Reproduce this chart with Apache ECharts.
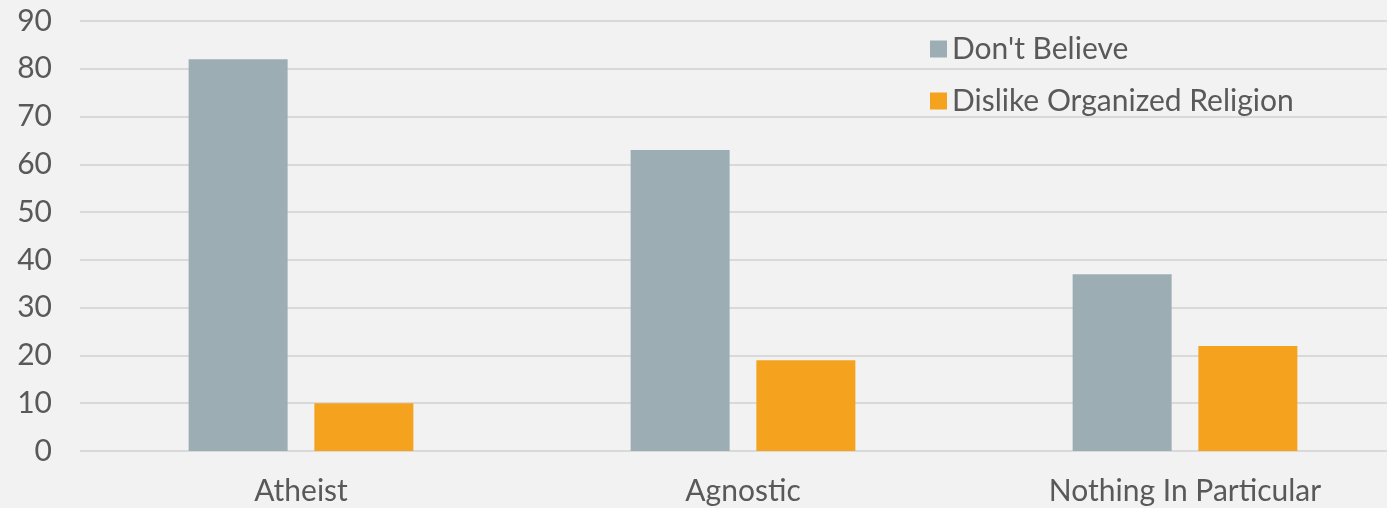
<!DOCTYPE html>
<html>
<head>
<meta charset="utf-8">
<script src="https://cdn.jsdelivr.net/npm/echarts@6/dist/echarts.min.js"></script>
<style>
  html, body { margin: 0; padding: 0; background: #f2f2f2; overflow: hidden; }
  #wrap { width: 1387px; height: 508px; overflow: hidden; }
  #chart { width: 1406px; height: 508px; }
</style>
</head>
<body>
<div id="wrap"><div id="chart"></div></div>
<script>
// Reasons for being unaffiliated, by group
const categories = ['Atheist', 'Agnostic', 'Nothing In Particular'];
const dontBelieve = [82, 63, 37];
const dislikeOrganizedReligion = [10, 19, 22];
const seriesNames = ["Don't Believe", 'Dislike Organized Religion'];

const textColor = '#595959';
const fontFamily = 'Lato, "Open Sans", sans-serif';

const chart = echarts.init(document.getElementById('chart'), null, { renderer: 'canvas' });
chart.setOption({
  backgroundColor: '#f2f2f2',
  animation: false,
  grid: { left: 80, right: 0, top: 21, bottom: 57, containLabel: false },
  legend: {
    orient: 'vertical',
    left: 925,
    top: 29,
    itemWidth: 17,
    itemHeight: 17,
    itemGap: 22,
    icon: 'rect',
    textStyle: { color: textColor, fontSize: 30, lineHeight: 30, fontFamily: fontFamily, padding: [0, 0, 0, 0] },
    data: seriesNames
  },
  xAxis: {
    type: 'category',
    data: categories,
    axisLine: { show: false },
    axisTick: { show: false },
    axisLabel: { color: textColor, fontSize: 30, fontFamily: fontFamily, margin: 25 }
  },
  yAxis: {
    type: 'value',
    min: 0,
    max: 90,
    interval: 10,
    axisLine: { show: false },
    axisTick: { show: false },
    axisLabel: { color: textColor, fontSize: 30, fontFamily: fontFamily, margin: 28 },
    splitLine: { lineStyle: { color: '#d9d9d9', width: 2 } }
  },
  series: [
    {
      name: seriesNames[0],
      type: 'bar',
      data: dontBelieve,
      barWidth: 99,
      barGap: '27%',
      itemStyle: { color: '#9caeb3' }
    },
    {
      name: seriesNames[1],
      type: 'bar',
      data: dislikeOrganizedReligion,
      barWidth: 99,
      itemStyle: { color: '#f5a31f' }
    }
  ]
});
</script>
</body>
</html>
